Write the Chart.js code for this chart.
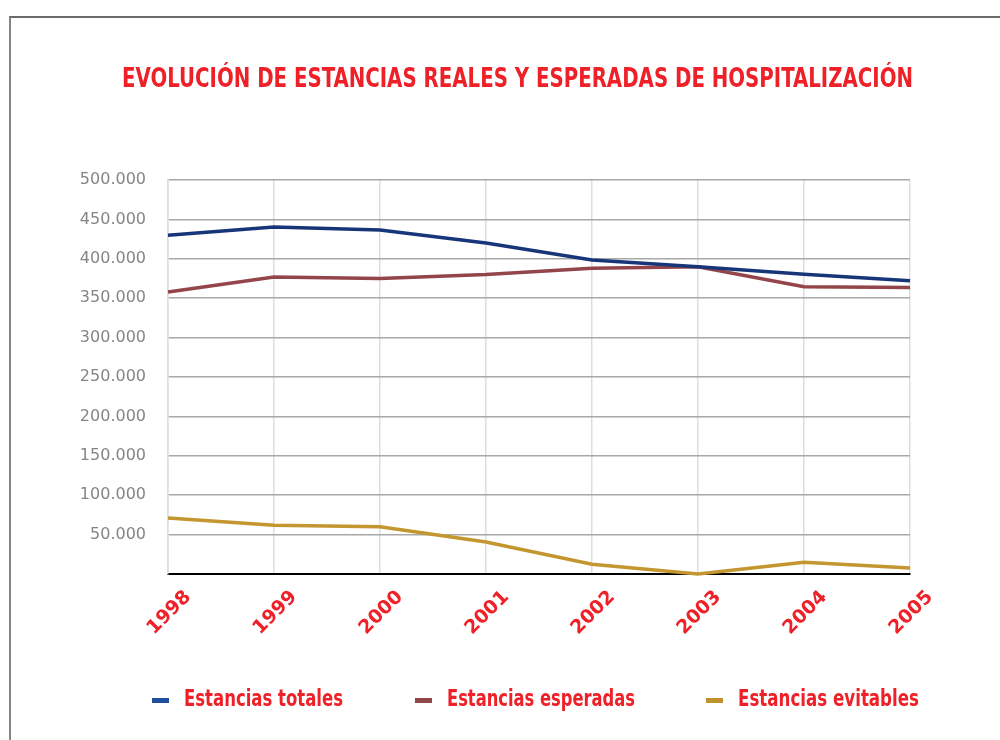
<!DOCTYPE html>
<html>
<head>
<meta charset="utf-8">
<script src="https://cdn.jsdelivr.net/npm/chart.js@4.4.1/dist/chart.umd.min.js"></script>
<style>
  html, body { margin: 0; padding: 0; background: #fff; width: 1000px; height: 740px; overflow: hidden; }
  #frame { position: absolute; left: 9px; top: 16px; width: 1100px; height: 800px; border-left: 2px solid #858585; border-top: 2px solid #6a6a6a; }
  #wrap { position: absolute; left: 0; top: 0; width: 1000px; height: 740px; }
  #title { position: absolute; left: 122px; top: 63px; line-height: 30px; font-family: "Liberation Sans Narrow", "DejaVu Sans Condensed", sans-serif; font-weight: bold; font-size: 26px; color: #ee2028; white-space: nowrap; transform-origin: 0 0; }
  .lg { position: absolute; top: 685px; line-height: 27px; font-family: "Liberation Sans Narrow", "DejaVu Sans Condensed", sans-serif; font-weight: bold; font-size: 23px; color: #ee2028; white-space: nowrap; transform-origin: 0 0; }
  .mk { position: absolute; top: 698px; width: 17px; height: 5px; }
</style>
</head>
<body>
<div id="frame"></div>
<div id="wrap"><canvas id="c" width="1000" height="740"></canvas></div>
<div id="title">EVOLUCIÓN DE ESTANCIAS REALES Y ESPERADAS DE HOSPITALIZACIÓN</div>
<div id="legend"></div>
<script>
const years = ["1998", "1999", "2000", "2001", "2002", "2003", "2004", "2005"];
const estanciasTotales = [430000, 440500, 436500, 420000, 398500, 390000, 380500, 372000];
const estanciasEsperadas = [358000, 377000, 375000, 380000, 388000, 390000, 364500, 363500];
const estanciasEvitables = [71000, 62000, 60000, 40500, 12500, 0, 15000, 7500];
const seriesNames = ["Estancias totales", "Estancias esperadas", "Estancias evitables"];
const lineColors = ["#17367a", "#93454a", "#c4962f"];
const legendColors = ["#1f4f9f", "#8f4749", "#c0922e"];
const yMax = 500000;
const yStep = 50000;

function fmt(v) {
  return String(v).replace(/\B(?=(\d{3})+(?!\d))/g, ".");
}

function fitWidth(el, target) {
  const w = el.getBoundingClientRect().width;
  if (w > 0) el.style.transform = 'scaleX(' + (target / w) + ')';
}

fitWidth(document.getElementById('title'), 791);

// HTML legend
const legendPos = [{m: 152, t: 184, w: 159}, {m: 415, t: 447, w: 188}, {m: 706, t: 738, w: 181}];
const lg = document.getElementById('legend');
seriesNames.forEach((n, i) => {
  const mk = document.createElement('div');
  mk.className = 'mk';
  mk.style.left = legendPos[i].m + 'px';
  mk.style.background = legendColors[i];
  lg.appendChild(mk);
  const t = document.createElement('div');
  t.className = 'lg';
  t.style.left = legendPos[i].t + 'px';
  t.textContent = n;
  lg.appendChild(t);
  fitWidth(t, legendPos[i].w);
});

const seriesData = [estanciasTotales, estanciasEsperadas, estanciasEvitables];
new Chart(document.getElementById('c'), {
  type: 'line',
  data: {
    labels: years,
    datasets: seriesData.map((d, i) => ({
      label: seriesNames[i],
      data: d,
      borderColor: lineColors[i],
      backgroundColor: lineColors[i],
      borderWidth: 3.5,
      pointRadius: 0,
      tension: 0,
      fill: false,
      clip: 4
    }))
  },
  options: {
    responsive: false,
    animation: false,
    devicePixelRatio: 1,
    layout: { padding: { top: 180, right: 90, left: 0, bottom: 0 } },
    plugins: { legend: { display: false }, title: { display: false }, tooltip: { enabled: false } },
    scales: {
      x: {
        offset: false,
        grid: { color: '#dedede', lineWidth: 1.5, drawTicks: false },
        border: { color: '#000', width: 2 },
        ticks: {
          minRotation: 45, maxRotation: 45, padding: 12, labelOffset: 20,
          color: '#ee2028',
          font: { family: 'DejaVu Sans', weight: 'bold', size: 19 }
        },
        afterFit: (s) => { s.height = 166; }
      },
      y: {
        min: 0, max: yMax,
        grid: { color: '#a8a8a8', lineWidth: 1.5, drawTicks: false },
        border: { color: '#dedede', width: 1.5 },
        ticks: {
          stepSize: yStep, padding: 22, color: '#858585',
          font: { family: 'DejaVu Sans', size: 16 },
          callback: (v) => v === 0 ? '' : fmt(v)
        },
        afterFit: (s) => { s.width = 168; }
      }
    }
  }
});
</script>
</body>
</html>
